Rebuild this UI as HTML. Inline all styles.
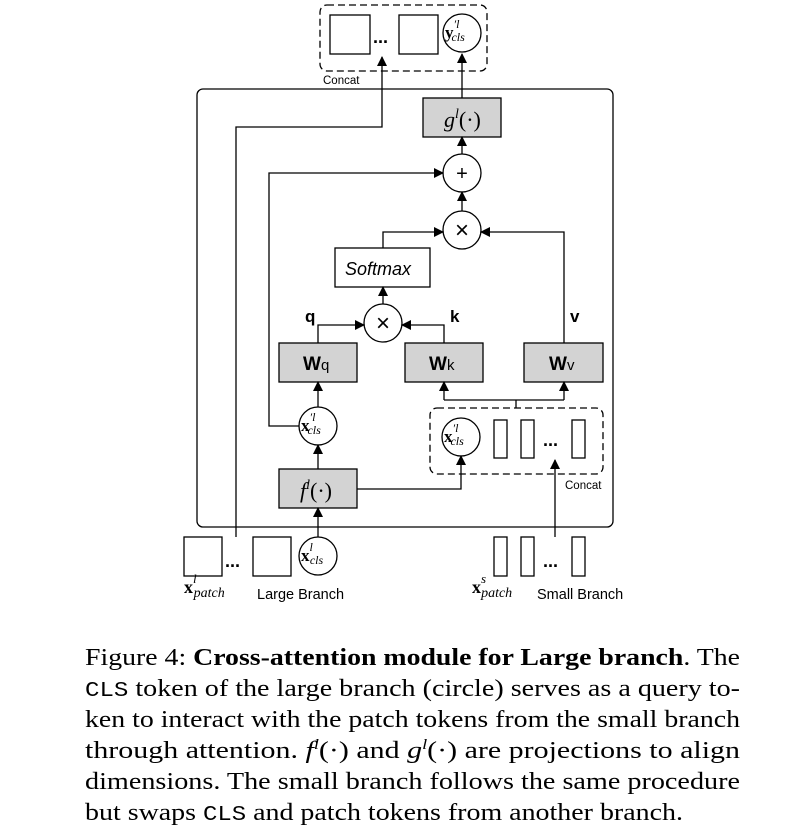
<!DOCTYPE html>
<html><head><meta charset="utf-8"><style>
html,body{margin:0;padding:0;background:#fff;}
svg{display:block;}
.s{font-family:"Liberation Sans",sans-serif;}
.m{font-family:"Liberation Serif",serif;}
.c{font-family:"Liberation Serif",serif;font-size:24.5px;}
.t{font-family:"Liberation Mono",monospace;}
</style></head><body>
<svg width="799" height="837" viewBox="0 0 799 837" xmlns="http://www.w3.org/2000/svg">
<defs>
<marker id="a" markerWidth="10" markerHeight="10" refX="9" refY="5" orient="auto" markerUnits="userSpaceOnUse">
<path d="M0,0 L10,5 L0,10 z" fill="#000"/></marker>
</defs>
<g fill="none" stroke="#000" stroke-width="1.3">
<!-- top concat box -->
<rect x="320" y="5" width="167" height="66" rx="7" stroke-dasharray="7,4"/>
<rect x="330" y="15" width="40" height="39"/>
<rect x="399" y="15" width="39" height="39"/>
<circle cx="462" cy="33" r="19"/>
<!-- main box -->
<rect x="197" y="89" width="416" height="438" rx="6"/>
<!-- g box -->
<rect x="423" y="98" width="78" height="39" fill="#d3d3d3"/>
<line x1="462" y1="98" x2="462" y2="54" marker-end="url(#a)"/>
<!-- plus, times -->
<circle cx="462" cy="173" r="19"/>
<circle cx="462" cy="230" r="19"/>
<line x1="462" y1="154" x2="462" y2="137" marker-end="url(#a)"/>
<line x1="462" y1="211" x2="462" y2="192" marker-end="url(#a)"/>
<!-- skip path -->
<polyline points="299,426 269,426 269,173 443,173" marker-end="url(#a)"/>
<!-- patch path to top concat -->
<polyline points="236,537 236,127 382,127 382,57" marker-end="url(#a)"/>
<!-- softmax -->
<rect x="335" y="248" width="95" height="39"/>
<polyline points="383,248 383,232 443,232" marker-end="url(#a)"/>
<polyline points="564,343 564,232 481,232" marker-end="url(#a)"/>
<line x1="383" y1="304" x2="383" y2="287" marker-end="url(#a)"/>
<!-- X circle -->
<circle cx="383" cy="323" r="19"/>
<rect x="279" y="343" width="78" height="39" fill="#d3d3d3"/>
<rect x="405" y="343" width="78" height="39" fill="#d3d3d3"/>
<rect x="524" y="343" width="79" height="39" fill="#d3d3d3"/>
<polyline points="318,343 318,325 364,325" marker-end="url(#a)"/>
<polyline points="444,343 444,325 402,325" marker-end="url(#a)"/>
<!-- x'cls -->
<circle cx="318" cy="426" r="19"/>
<line x1="318" y1="407" x2="318" y2="382" marker-end="url(#a)"/>
<rect x="279" y="469" width="78" height="39" fill="#d3d3d3"/>
<line x1="318" y1="469" x2="318" y2="445" marker-end="url(#a)"/>
<polyline points="357,489 461,489 461,456" marker-end="url(#a)"/>
<!-- small concat -->
<rect x="430" y="408" width="173" height="66" rx="7" stroke-dasharray="7,4"/>
<circle cx="461" cy="437" r="19"/>
<rect x="494" y="420" width="13" height="38"/>
<rect x="521" y="420" width="13" height="38"/>
<rect x="572" y="420" width="13" height="38"/>
<line x1="516" y1="408" x2="516" y2="400"/>
<polyline points="444,382 444,400 564,400 564,382" stroke="none"/>
<line x1="444" y1="400" x2="564" y2="400"/>
<line x1="444" y1="400" x2="444" y2="382" marker-end="url(#a)"/>
<line x1="564" y1="400" x2="564" y2="382" marker-end="url(#a)"/>
<line x1="555" y1="537" x2="555" y2="460" marker-end="url(#a)"/>
<!-- bottom -->
<rect x="184" y="537" width="38" height="39"/>
<rect x="253" y="537" width="38" height="39"/>
<circle cx="318" cy="556" r="19"/>
<line x1="318" y1="537" x2="318" y2="508" marker-end="url(#a)"/>
<rect x="494" y="537" width="13" height="39"/>
<rect x="521" y="537" width="13" height="39"/>
<rect x="572" y="537" width="13" height="39"/>
</g>
<g fill="#000">
<!-- dots -->
<text x="373" y="43" class="s" font-size="18" font-weight="bold">...</text>
<text x="225" y="567" class="s" font-size="18" font-weight="bold">...</text>
<text x="543" y="567" class="s" font-size="18" font-weight="bold">...</text>
<text x="543" y="446" class="s" font-size="18" font-weight="bold">...</text>
<text x="323" y="84" class="s" font-size="11.5">Concat</text>
<text x="565" y="489" class="s" font-size="11.5">Concat</text>
<text x="345" y="275" class="s" font-size="18" font-style="italic">Softmax</text>
<text x="305" y="322" class="s" font-size="17" font-weight="bold">q</text>
<text x="450" y="322" class="s" font-size="17" font-weight="bold">k</text>
<text x="570" y="322" class="s" font-size="17" font-weight="bold">v</text>
<text x="303" y="370" class="s" font-size="19" font-weight="bold">W<tspan font-weight="normal" font-size="15">q</tspan></text>
<text x="429" y="370" class="s" font-size="19" font-weight="bold">W<tspan font-weight="normal" font-size="15">k</tspan></text>
<text x="549" y="370" class="s" font-size="19" font-weight="bold">W<tspan font-weight="normal" font-size="15">v</tspan></text>
<text x="462" y="180" class="s" font-size="20" text-anchor="middle">+</text>
<text x="462" y="238" class="s" font-size="24" text-anchor="middle">×</text>
<text x="383" y="331" class="s" font-size="24" text-anchor="middle">×</text>
<text x="444" y="127" class="m" font-size="22" font-style="italic">g<tspan font-size="14" dy="-9">l</tspan><tspan font-style="normal" dy="9">(·)</tspan></text>
<text x="300" y="498" class="m" font-size="22" font-style="italic">f<tspan font-size="14" dy="-9">l</tspan><tspan font-style="normal" dy="9">(·)</tspan></text>
<!-- circle labels -->
<text x="445" y="38" class="m" font-size="17" font-weight="bold">y<tspan font-size="12" font-weight="normal" font-style="italic" dy="-10">′l</tspan><tspan font-size="12" font-weight="normal" font-style="italic" dx="-8" dy="13">cls</tspan></text>
<text x="301" y="431" class="m" font-size="17" font-weight="bold">x<tspan font-size="12" font-weight="normal" font-style="italic" dy="-10">′l</tspan><tspan font-size="12" font-weight="normal" font-style="italic" dx="-8" dy="13">cls</tspan></text>
<text x="444" y="442" class="m" font-size="17" font-weight="bold">x<tspan font-size="12" font-weight="normal" font-style="italic" dy="-10">′l</tspan><tspan font-size="12" font-weight="normal" font-style="italic" dx="-8" dy="13">cls</tspan></text>
<text x="301" y="561" class="m" font-size="17" font-weight="bold">x<tspan font-size="12" font-weight="normal" font-style="italic" dy="-10">l</tspan><tspan font-size="12" font-weight="normal" font-style="italic" dx="-3" dy="13">cls</tspan></text>
<text x="184" y="593" class="m" font-size="18" font-weight="bold">x<tspan font-size="13" font-weight="normal" font-style="italic" dy="-10">l</tspan><tspan font-size="14" font-weight="normal" font-style="italic" dx="-3" dy="14">patch</tspan></text>
<text x="472" y="593" class="m" font-size="18" font-weight="bold">x<tspan font-size="13" font-weight="normal" font-style="italic" dy="-10">s</tspan><tspan font-size="14" font-weight="normal" font-style="italic" dx="-5" dy="14">patch</tspan></text>
<text x="257" y="599" class="s" font-size="14.5">Large Branch</text>
<text x="537" y="599" class="s" font-size="14.5">Small Branch</text>
<!-- caption -->
<text x="85" y="665" class="c" textLength="655" lengthAdjust="spacingAndGlyphs">Figure 4: <tspan font-weight="bold">Cross-attention module for Large branch</tspan>. The</text>
<text x="85" y="696" class="c" textLength="655" lengthAdjust="spacingAndGlyphs"><tspan class="t" font-size="21">CLS</tspan> token of the large branch (circle) serves as a query to-</text>
<text x="85" y="727" class="c" textLength="655" lengthAdjust="spacingAndGlyphs">ken to interact with the patch tokens from the small branch</text>
<text x="85" y="758" class="c" textLength="655" lengthAdjust="spacingAndGlyphs">through attention.  <tspan font-style="italic">f</tspan><tspan font-size="15" font-style="italic" dy="-9">l</tspan><tspan dy="9">(·) and </tspan><tspan font-style="italic">g</tspan><tspan font-size="15" font-style="italic" dy="-9">l</tspan><tspan dy="9">(·) are projections to align</tspan></text>
<text x="85" y="789" class="c" textLength="655" lengthAdjust="spacingAndGlyphs">dimensions. The small branch follows the same procedure</text>
<text x="85" y="820" class="c" textLength="598" lengthAdjust="spacingAndGlyphs">but swaps <tspan class="t" font-size="21">CLS</tspan> and patch tokens from another branch.</text>
</g>
</svg>
</body></html>
